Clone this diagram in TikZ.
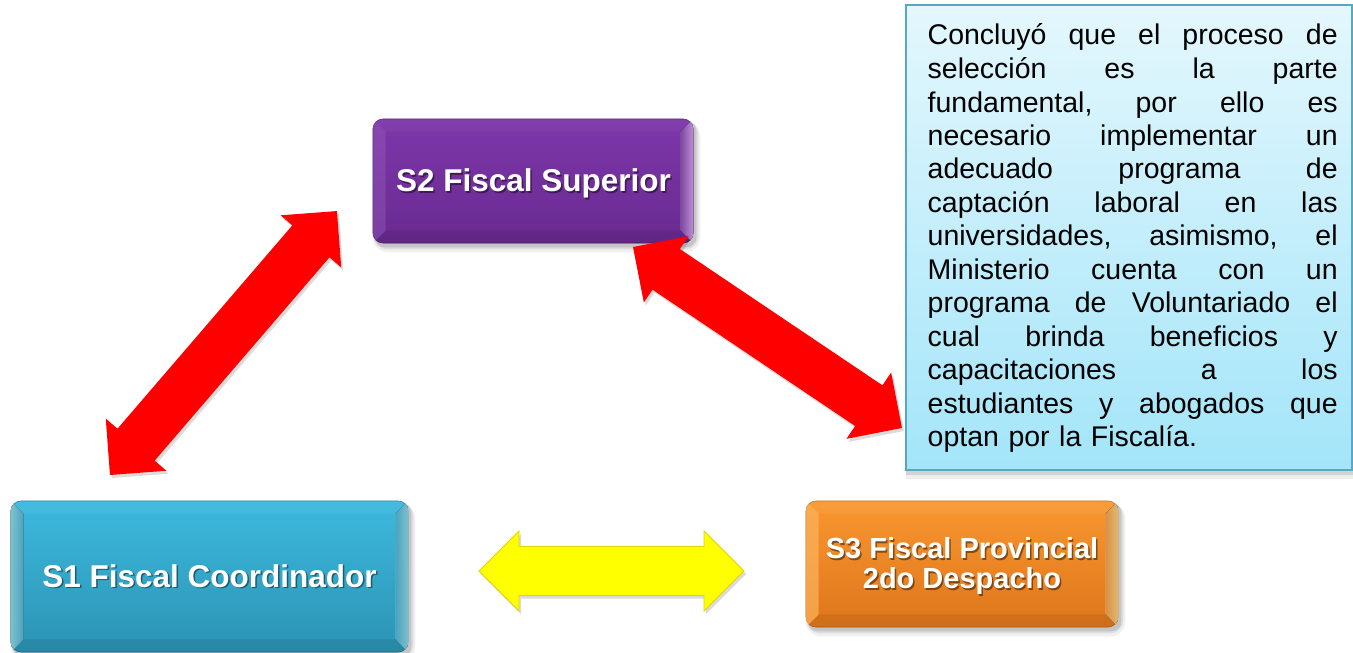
\documentclass[tikz,border=0pt]{standalone}
\usepackage{fontspec}
\setmainfont{Liberation Sans}
\usetikzlibrary{calc}
\pgfdeclarelayer{bg}
\pgfsetlayers{bg,main}

\definecolor{purT}{HTML}{7C37A9}
\definecolor{purB}{HTML}{692A91}
\definecolor{purHi}{HTML}{DCA6F7}
\definecolor{cyT}{HTML}{3CB9DE}
\definecolor{cyB}{HTML}{2C93B3}
\definecolor{cyHi}{HTML}{9DE9FA}
\definecolor{orT}{HTML}{F9972F}
\definecolor{orB}{HTML}{DE751B}
\definecolor{orHi}{HTML}{FFD88A}
\definecolor{orLe}{HTML}{FCB45C}
\definecolor{noteT}{HTML}{E4F7FD}
\definecolor{noteB}{HTML}{A3E5F9}
\definecolor{noteD}{HTML}{58A7C5}
\definecolor{arrowred}{HTML}{FF0000}
\definecolor{arrowyel}{HTML}{FFFF00}
\definecolor{arrowyelD}{HTML}{E2D400}

\tikzset{
  gelbox/.style={rectangle, rounded corners=10pt, inner sep=0pt, line width=0.6pt},
  sonebox/.style={gelbox, top color=cyT, bottom color=cyB, draw=cyB!75!black, minimum width=397pt, minimum height=151pt},
  stwobox/.style={gelbox, top color=purT, bottom color=purB, draw=purB!75!black, minimum width=320pt, minimum height=124pt},
  sthreebox/.style={gelbox, top color=orT, bottom color=orB, draw=orB!80!black, minimum width=312pt, minimum height=126pt},
  lbltext/.style={text=white, inner sep=0pt, anchor=base, font=\bfseries\fontsize{31.5}{34}\selectfont},
  sthreefont/.style={font=\bfseries\fontsize{29}{30}\selectfont},
  notebox/.style={rectangle, inner sep=0pt, top color=noteT, bottom color=noteB, draw=noteD, line width=1.2pt, minimum width=446pt, minimum height=465pt},
  notetext/.style={anchor=base west, inner sep=0pt, text width=410pt, align=left, font=\fontsize{28.5}{33.5}\selectfont, text=black},
  redarrow/.style={fill=arrowred},
  yelarrow/.style={fill=arrowyel, draw=arrowyelD, line width=0.8pt, line join=miter},
  arrowshadow/.style={fill=black, opacity=0.14},
}

% block double arrow between two named coordinates
\newcommand\blockarrow[4]{%
  \path (#1); \pgfgetlastxy{\bax}{\bay}%
  \path (#2); \pgfgetlastxy{\bbx}{\bby}%
  \pgfmathsetmacro\bang{atan2((\bby)-(\bay),(\bbx)-(\bax))}%
  \pgfmathsetmacro\blen{veclen((\bbx)-(\bax),(\bby)-(\bay))}%
  \begin{scope}[shift={(#1)},#4,rotate=\bang,x=1pt,y=1pt]
    \path[#3] (0,0) -- (40,40) -- (40,24.5) -- (\blen-40,24.5) -- (\blen-40,40)
      -- (\blen,0) -- (\blen-40,-40) -- (\blen-40,-24.5) -- (40,-24.5) -- (40,-40) -- cycle;
  \end{scope}}

% soft drop shadow behind a node
\newcommand\softshadow[2]{%
  \begin{pgfonlayer}{bg}
    \fill[black,opacity=.06,rounded corners=#2+5pt] ($(#1.north west)+(0,3)$) rectangle ($(#1.south east)+(7,9)$);
    \fill[black,opacity=.08,rounded corners=#2+3pt] ($(#1.north west)+(1,2)$) rectangle ($(#1.south east)+(5,6)$);
    \fill[black,opacity=.11,rounded corners=#2] ($(#1.north west)+(2,2)$) rectangle ($(#1.south east)+(3,4)$);
  \end{pgfonlayer}}

% bevel strips inside a gel box
\newcommand\gelbevel[5]{%
  \begin{scope}
    \clip[rounded corners=10pt] (#1.north west) rectangle (#1.south east);
    \fill[#4] (#1.north west) -- (#1.north east) -- ($(#1.north east)+(-13,13)$) -- ($(#1.north west)+(13,13)$) -- cycle;
    \fill[#5] (#1.south west) -- (#1.south east) -- ($(#1.south east)+(-13,-13)$) -- ($(#1.south west)+(13,-13)$) -- cycle;
    \fill[#2] (#1.north west) -- ($(#1.north west)+(13,13)$) -- ($(#1.south west)+(13,-13)$) -- (#1.south west) -- cycle;
    \fill[#3] (#1.north east) -- ($(#1.north east)+(-13,13)$) -- ($(#1.south east)+(-13,-13)$) -- (#1.south east) -- cycle;
  \end{scope}}

% white label with dark shadow
\newcommand\gellabel[4]{%
  \node[lbltext,#1,text=black,opacity=0.45] (#2-sh) at ([shift={(1.5,1.8)}]#3) {#4};
  \node[lbltext,#1] (#2) at (#3) {#4};}

\begin{document}
\begin{tikzpicture}[x=1pt,y=-1pt]
\useasboundingbox (0,0) rectangle (1353,653);

% note box
\node[notebox] (note) at (1129,237.5) {};
\begin{pgfonlayer}{bg}
  \fill[black,opacity=.07] ($(note.north west)+(1,3)$) rectangle ($(note.south east)+(5,8)$);
  \fill[black,opacity=.11] ($(note.north west)+(1,2)$) rectangle ($(note.south east)+(3,4)$);
\end{pgfonlayer}
\node[notetext] (notetxt) at (927.5,45) {%
Concluyó\hfill que\hfill el\hfill proceso\hfill de\\
selección\hfill es\hfill la\hfill parte\\
fundamental,\hfill por\hfill ello\hfill es\\
necesario\hfill implementar\hfill un\\
adecuado\hfill programa\hfill de\\
captación\hfill laboral\hfill en\hfill las\\
universidades,\hfill asimismo,\hfill el\\
Ministerio\hfill cuenta\hfill con\hfill un\\
programa\hfill de\hfill Voluntariado\hfill el\\
cual\hfill brinda\hfill beneficios\hfill y\\
capacitaciones\hfill a\hfill los\\
estudiantes\hfill y\hfill abogados\hfill que\\
optan por la Fiscalía.};

% S2
\node[stwobox] (s2) at (533,181) {};
\softshadow{s2}{10pt}
\gelbevel{s2}{fill=purT!80!white,opacity=.4}{left color=purT!85!white,right color=purHi,opacity=.85}{fill=purT!85!white,opacity=.25}{fill=purB!70!black,opacity=.25}
\gellabel{}{s2lbl}{533.5,191.5}{S2 Fiscal Superior}

% S1
\node[sonebox] (s1) at (209.5,576.5) {};
\softshadow{s1}{10pt}
\gelbevel{s1}{left color=cyHi,right color=cyT!85!white,opacity=.8}{left color=cyT!85!white,right color=cyHi,opacity=.8}{fill=cyT!85!white,opacity=.3}{fill=cyB!70!black,opacity=.25}
\gellabel{}{s1lbl}{209.5,587}{S1 Fiscal Coordinador}

% S3
\node[sthreebox] (s3) at (962,564) {};
\softshadow{s3}{10pt}
\gelbevel{s3}{fill=orLe,opacity=.7}{left color=orT!85!white,right color=orHi,opacity=.85}{fill=orT!80!white,opacity=.3}{fill=orB!75!black,opacity=.25}
\gellabel{sthreefont}{s3lbla}{962,558.3}{S3 Fiscal Provincial}
\gellabel{sthreefont}{s3lblb}{962,588.3}{2do Despacho}

% arrow end points
\coordinate (r1a) at (110,475);
\coordinate (r1b) at (337,211);
\coordinate (r2a) at (633,247);
\coordinate (r2b) at (902,428);
\coordinate (ya) at (479,571);
\coordinate (yb) at (744,571);

% red arrows
\blockarrow{r1a}{r1b}{arrowshadow}{xshift=2pt,yshift=-3pt}
\blockarrow{r1a}{r1b}{redarrow}{}
\blockarrow{r2a}{r2b}{arrowshadow}{xshift=2pt,yshift=-3pt}
\blockarrow{r2a}{r2b}{redarrow}{}

% yellow arrow
\blockarrow{ya}{yb}{arrowshadow}{xshift=2pt,yshift=-3pt}
\blockarrow{ya}{yb}{yelarrow}{}
\end{tikzpicture}
\end{document}
